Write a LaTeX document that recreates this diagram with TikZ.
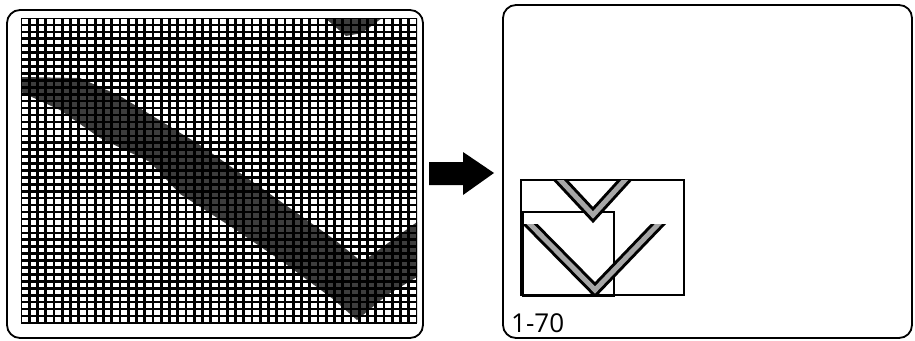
\documentclass[tikz,border=0pt]{standalone}
\usepackage{fontspec}
\setsansfont{Open Sans}
\usepackage{tikz}
\usetikzlibrary{arrows.meta}

\tikzset{
  panel/.style={line width=1.8pt, rounded corners=13pt},
  gridline/.style={line width=2.8pt, black},
  stripe/.style={line width=5pt, draw=black!35, line join=miter,
    preaction={draw=black, line width=11pt, line join=miter}},
  subbox/.style={line width=1.4pt}
}

\begin{document}
\begin{tikzpicture}[x=1pt,y=-1pt]
\useasboundingbox (0,0) rectangle (915,340);
% left screen: enlarged pixel grid
\begin{scope}
\clip (21,18) rectangle (417,323);
\fill[black!76] (21,77)--(80,78)--(120,96)--(200,145)--(270,194)--(335,240)--(362,262)--(417,222)
  --(417,277)--(387,295)--(357,320)--(333,299)--(283,262)--(233,228)--(180,194)--(150,162)
  --(100,138)--(60,110)--(21,92)--cycle;
\fill[black!76] (325,18)--(382,18)--(362,33)--(346,36)--cycle;
\foreach \i in {0,...,48}
  \draw[gridline] ({21+\i*8.25},18)--({21+\i*8.25},323);
\foreach \j in {0,...,44}
  \draw[gridline, line width=2.6pt] (21,{18+\j*6.93})--(417,{18+\j*6.93});
\end{scope}
\draw[panel] (7,10) rectangle (423,338);

% arrow
\fill[black] (429,162)--(463,162)--(463,152)--(494,173)--(463,195)--(463,185)--(429,185)--cycle;

% right screen
\draw[panel] (503,5) rectangle (912,338);
\draw[subbox] (521,180) rectangle (684,295);
\draw[subbox] (523,212) rectangle (614,296);
\begin{scope}
\clip (521,180) rectangle (684,295);
\draw[stripe] (551,170)--(593,215)--(634,170);
\end{scope}
\begin{scope}
\clip (521,224) rectangle (684,295);
\draw[stripe] (521,215)--(595,290)--(668,214);
\end{scope}
\node[anchor=base west, font=\sffamily\fontsize{26}{26}\selectfont, inner sep=0pt] (label) at (511,332) {1-70};
\end{tikzpicture}
\end{document}
